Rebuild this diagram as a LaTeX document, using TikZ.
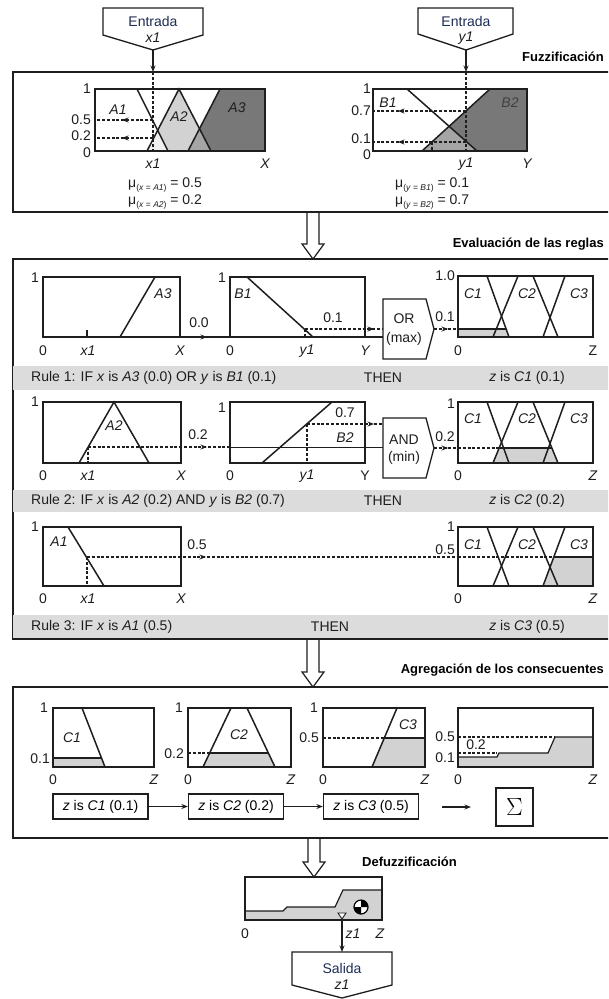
\documentclass[tikz,border=0pt]{standalone}
\usepackage{fontspec}
\setmainfont{Liberation Sans}
\usetikzlibrary{arrows.meta}
\definecolor{txtblue}{RGB}{30,45,85}
\definecolor{bandgray}{RGB}{220,220,220}
\definecolor{lgray}{RGB}{210,210,210}
\definecolor{mgray}{RGB}{165,165,165}
\definecolor{dgray}{RGB}{120,120,120}
\definecolor{vlgray}{RGB}{240,240,240}
\definecolor{lnc}{RGB}{30,30,30}
\newcommand\bigdownarrow[3]{%
  \draw[draw=lnc,line width=1.2pt,fill=white] (#1-6,#2) -- (#1-6,#3-15) -- (#1-11,#3-15) -- (#1,#3) -- (#1+11,#3-15) -- (#1+6,#3-15) -- (#1+6,#2);}
\begin{document}
\begin{tikzpicture}[x=1pt,y=-1pt,
  lab/.style={font=\fontsize{14}{16}\selectfont, inner sep=0pt, text=lnc},
  ilab/.style={font=\fontsize{14}{16}\selectfont\itshape, inner sep=0pt, text=lnc},
  ttl/.style={font=\fontsize{13}{15}\selectfont\bfseries, inner sep=0pt, anchor=east},
  frame/.style={draw=lnc, line width=1.5pt},
  pbox/.style={draw=lnc, line width=1.6pt},
  mf/.style={draw=lnc, line width=1.5pt},
  sl/.style={draw=lnc, line width=1.2pt},
  dl/.style={draw=lnc, line width=1.1pt, dash pattern=on 3pt off 1.8pt},
  arr/.style={-{Stealth[length=6.5pt,width=5pt]}},
  band/.style={fill=bandgray},
  zbox/.style={draw=lnc, line width=1.3pt, minimum width=95pt, minimum height=25pt, inner sep=0pt, font=\fontsize{14}{16}\selectfont},
  io/.style={draw=lnc, line width=1.3pt, fill=white},
]
\useasboundingbox (0,0) rectangle (608,999);
\clip (0,0) rectangle (608,999);
\fill[white] (0,0) rectangle (608,999);

% ================= inputs
\draw[io] (103,8) -- (203,8) -- (203,35) -- (153,50) -- (103,35) -- cycle;
\node[lab,text=txtblue] (inxa) at (153,21) {Entrada};
\node[ilab] (inxb) at (153,38) {x1};
\coordinate (inxtip) at (153,50);
\draw[io] (418,8) -- (513,8) -- (513,34) -- (466,50) -- (418,34) -- cycle;
\node[lab,text=txtblue] (inya) at (466,21) {Entrada};
\node[ilab] (inyb) at (466,38) {y1};
\coordinate (inytip) at (466,50);

% ================= fuzzification
\draw[frame] (13,72) rectangle (620,212);
\node[ttl] (tfz) at (604,57) {Fuzzificación};

% left plot
\fill[lgray] (147,151) -- (179,89) -- (211,151) -- cycle;
\fill[dgray] (188,151) -- (220,89) -- (265,89) -- (265,151) -- cycle;
\fill[mgray] (188,151) -- (199.5,128.7) -- (211,151) -- cycle;
\fill[vlgray] (147,151) -- (157.7,130.3) -- (168,151) -- cycle;
\draw[mf] (137,89) -- (168,151);
\draw[mf] (147,151) -- (179,89) -- (211,151);
\draw[mf] (188,151) -- (220,89);
\draw[pbox] (95,89) rectangle (265,151);
\coordinate (fzx) at (153,72);
\coordinate (x1bot) at (153,151);
\draw[sl,arr] (inxtip) -- (fzx);
\draw[dl] (fzx) -- (x1bot);
\coordinate (pa1) at (153,120); \coordinate (qa1) at (95,120); \coordinate (ma1) at (122,120);
\draw[dl] (pa1) -- (qa1); \draw[dl,arr] (pa1) -- (ma1);
\coordinate (pa2) at (153,138); \coordinate (qa2) at (95,138); \coordinate (ma2) at (122,138);
\draw[dl] (pa2) -- (qa2); \draw[dl,arr] (pa2) -- (ma2);
\node[lab,anchor=east] (fl1) at (91,89) {1};
\node[lab,anchor=east] (fl5) at (91,120) {0.5};
\node[lab,anchor=east] (fl2) at (91,136) {0.2};
\node[lab,anchor=east] (fl0) at (91,153) {0};
\node[ilab] (fA1) at (118,110) {A1};
\node[ilab] (fA2) at (179,117) {A2};
\node[ilab] (fA3) at (237,108) {A3};
\node[ilab] (fx1) at (153,164) {x1};
\node[ilab] (fX) at (265,164) {X};
\node[lab,anchor=west] (mu1) at (128,185) {μ\raisebox{-2.5pt}{\fontsize{8.5}{9}\selectfont(\textit{x} = \textit{A1})} = 0.5};
\node[lab,anchor=west] (mu2) at (128,202) {μ\raisebox{-2.5pt}{\fontsize{8.5}{9}\selectfont(\textit{x} = \textit{A2})} = 0.2};

% right plot
\fill[dgray] (422,151) -- (490,89) -- (527,89) -- (527,151) -- cycle;
\fill[mgray] (422,151) -- (449.1,126.3) -- (477,151) -- cycle;
\draw[mf] (407,89) -- (477,151);
\draw[mf] (422,151) -- (490,89);
\draw[pbox] (373,89) rectangle (527,151);
\coordinate (fzy) at (466,72);
\coordinate (y1bot) at (466,151);
\draw[sl,arr] (inytip) -- (fzy);
\draw[dl] (fzy) -- (y1bot);
\coordinate (pb1) at (466,111); \coordinate (qb1) at (373,111); \coordinate (mb1) at (398,111);
\draw[dl] (pb1) -- (qb1); \draw[dl,arr] (pb1) -- (mb1);
\coordinate (pb2) at (466,142); \coordinate (qb2) at (373,142); \coordinate (mb2) at (398,142);
\draw[dl] (pb2) -- (qb2); \draw[dl,arr] (pb2) -- (mb2);
\coordinate (pb3) at (432,142); \coordinate (qb3) at (432,151);
\draw[dl] (pb3) -- (qb3);
\node[lab,anchor=east] (gl1) at (371,89) {1};
\node[lab,anchor=east] (gl7) at (371,111) {0.7};
\node[lab,anchor=east] (gl2) at (371,139) {0.1};
\node[lab,anchor=east] (gl0) at (371,155) {0};
\node[ilab] (gB1) at (388,103) {B1};
\node[ilab,text=black!75] (gB2) at (510,103) {B2};
\node[ilab] (gy1) at (466,164) {y1};
\node[ilab] (gY) at (527,164) {Y};
\node[lab,anchor=west] (mu3) at (395,185) {μ\raisebox{-2.5pt}{\fontsize{8.5}{9}\selectfont(\textit{y} = \textit{B1})} = 0.1};
\node[lab,anchor=west] (mu4) at (395,202) {μ\raisebox{-2.5pt}{\fontsize{8.5}{9}\selectfont(\textit{y} = \textit{B2})} = 0.7};

% ================= rule evaluation
\draw[frame] (13,259) rectangle (620,639);
\node[ttl] (tev) at (604,244) {Evaluación de las reglas};
\bigdownarrow{313}{213}{259}

% ---- rule 1
\draw[pbox] (43,277) rectangle (180,337);
\draw[mf] (120,337) -- (155,277);
\draw[mf] (87,330) -- (87,337);
\node[lab,anchor=east] (a1) at (39,278) {1};
\node[lab] (a2) at (43,351) {0};
\node[ilab] (a3) at (88,351) {x1};
\node[ilab] (a4) at (180,351) {X};
\node[ilab] (a5) at (163,294) {A3};
\coordinate (r1ao) at (180,337); \coordinate (r1am) at (207,337); \coordinate (r1bi) at (230,337);
\draw[sl] (r1ao) -- (r1bi); \draw[sl,arr] (r1ao) -- (r1am);
\node[lab] (a6) at (199,323) {0.0};

\draw[pbox] (230,277) rectangle (365,337);
\draw[mf] (247,277) -- (313,337);
\node[lab,anchor=east] (b1) at (226,278) {1};
\node[ilab] (b2) at (243,294) {B1};
\node[lab] (b3) at (230,351) {0};
\node[ilab] (b4) at (307,351) {y1};
\node[ilab] (b5) at (365,351) {Y};
\coordinate (r1bp) at (305,329); \coordinate (r1bq) at (305,337);
\draw[dl] (r1bp) -- (r1bq);
\coordinate (or1in) at (383,329); \coordinate (or1m) at (374,329);
\draw[dl] (r1bp) -- (or1in); \draw[dl,arr] (r1bp) -- (or1m);
\node[lab] (b6) at (333,318) {0.1};
\coordinate (r1bo) at (365,337); \coordinate (or1in2) at (383,337);
\draw[sl] (r1bo) -- (or1in2);

\draw[io] (383,299) -- (426,299) -- (434,329) -- (426,359) -- (383,359) -- cycle;
\node[lab] (orA) at (404,319) {OR};
\node[lab] (orB) at (404,339) {(max)};
\coordinate (ortip) at (434,329); \coordinate (c1in) at (458,329); \coordinate (c1m) at (448,329);
\draw[dl] (ortip) -- (c1in); \draw[dl,arr] (ortip) -- (c1m);
\node[lab] (orv) at (445,317) {0.1};

\fill[lgray] (458,337) -- (458,329) -- (506,329) -- (509,337) -- cycle;
\draw[sl] (458,329) -- (506,329);
\draw[mf] (487,276) -- (509,337);
\draw[mf] (493,337) -- (518,276);
\draw[mf] (533,276) -- (558,337);
\draw[mf] (543,337) -- (565,276);
\draw[pbox] (458,276) rectangle (593,337);
\node[lab,anchor=east] (c1) at (455,276) {1.0};
\node[lab] (c2) at (458,351) {0};
\node[lab] (c3) at (593,351) {Z};
\node[ilab] (c4) at (473,294) {C1};
\node[ilab] (c5) at (527,294) {C2};
\node[ilab] (c6) at (579,294) {C3};

\fill[band] (13,366) rectangle (620,390);
\node[lab,anchor=west] (rl1) at (31,378) {Rule 1: IF \textit{x} is \textit{A3} (0.0) OR \textit{y} is \textit{B1} (0.1)};
\node[lab] (th1) at (383,378) {THEN};
\node[lab] (cz1) at (527,378) {\textit{z} is \textit{C1} (0.1)};

% ---- rule 2
\draw[pbox] (43,402) rectangle (181,463);
\draw[mf] (79,463) -- (114,402) -- (149,463);
\node[lab,anchor=east] (d1) at (39,402) {1};
\node[lab] (d2) at (43,476) {0};
\node[ilab] (d3) at (88,476) {x1};
\node[ilab] (d4) at (181,476) {X};
\node[ilab] (d5) at (114,426) {A2};
\coordinate (r2ap) at (88,447); \coordinate (r2aq) at (88,463);
\draw[dl] (r2ap) -- (r2aq);
\coordinate (r2bi) at (230,447); \coordinate (r2am) at (207,447);
\draw[dl] (r2ap) -- (r2bi); \draw[dl,arr] (r2ap) -- (r2am);
\node[lab] (d6) at (198,435) {0.2};
\coordinate (and1in2) at (383,447);
\draw[sl,line width=0.9pt] (r2bi) -- (and1in2);

\draw[pbox] (230,402) rectangle (365,463);
\draw[mf] (262,463) -- (332,402);
\coordinate (r2bp) at (307,424); \coordinate (r2bq) at (307,463);
\draw[dl] (r2bp) -- (r2bq);
\coordinate (and1in) at (383,424); \coordinate (and1m) at (374,424);
\draw[dl] (r2bp) -- (and1in); \draw[dl,arr] (r2bp) -- (and1m);
\node[lab] (e1) at (345,413) {0.7};
\node[ilab] (e2) at (345,438) {B2};
\node[lab,anchor=east] (e3) at (226,408) {1};
\node[lab] (e4) at (230,476) {0};
\node[ilab] (e5) at (307,476) {y1};
\node[lab] (e6) at (365,476) {Y};

\draw[io] (383,418) -- (426,418) -- (434,448) -- (426,478) -- (383,478) -- cycle;
\node[lab] (andA) at (404,440) {AND};
\node[lab] (andB) at (404,458) {(min)};
\coordinate (andtip) at (434,448); \coordinate (c2in) at (458,448); \coordinate (c2m) at (448,448);
\draw[dl] (andtip) -- (c2in); \draw[dl,arr] (andtip) -- (c2m);
\node[lab] (andv) at (445,437) {0.2};

\fill[lgray] (493,463) -- (499.1,448) -- (551.9,448) -- (558,463) -- cycle;
\draw[dl] (458,448) -- (499.1,448);
\draw[sl] (499.1,448) -- (551.9,448);
\draw[mf] (487,402) -- (509,463);
\draw[mf] (493,463) -- (518,402);
\draw[mf] (533,402) -- (558,463);
\draw[mf] (543,463) -- (565,402);
\draw[pbox] (458,402) rectangle (593,463);
\node[lab,anchor=east] (f1) at (455,404) {1};
\node[lab] (f2) at (458,476) {0};
\node[ilab] (f3) at (593,476) {Z};
\node[ilab] (f4) at (473,419) {C1};
\node[ilab] (f5) at (527,419) {C2};
\node[ilab] (f6) at (579,419) {C3};

\fill[band] (13,490) rectangle (620,512);
\node[lab,anchor=west] (rl2) at (31,501) {Rule 2: IF \textit{x} is \textit{A2} (0.2) AND \textit{y} is \textit{B2} (0.7)};
\node[lab] (th2) at (383,501) {THEN};
\node[lab] (cz2) at (527,501) {\textit{z} is \textit{C2} (0.2)};

% ---- rule 3
\draw[pbox] (43,527) rectangle (181,586);
\draw[mf] (68,527) -- (104,586);
\node[lab,anchor=east] (g1) at (39,527) {1};
\node[lab] (g2) at (43,599) {0};
\node[ilab] (g3) at (88,599) {x1};
\node[ilab] (g4) at (181,599) {X};
\node[ilab] (g5) at (59,542) {A1};
\coordinate (r3ap) at (87,557); \coordinate (r3aq) at (87,586);
\draw[dl] (r3ap) -- (r3aq);
\coordinate (c3in) at (458,557); \coordinate (r3am) at (206,557);
\draw[dl] (r3ap) -- (c3in); \draw[dl,arr] (r3ap) -- (r3am);
\node[lab] (g6) at (197,545) {0.5};

\fill[lgray] (543,586) -- (553.8,557) -- (593,557) -- (593,586) -- cycle;
\draw[dl] (458,557) -- (553.8,557);
\draw[sl] (553.8,557) -- (593,557);
\draw[mf] (487,527) -- (509,586);
\draw[mf] (493,586) -- (518,527);
\draw[mf] (533,527) -- (558,586);
\draw[mf] (543,586) -- (565,527);
\draw[pbox] (458,527) rectangle (593,586);
\node[lab,anchor=east] (h1) at (455,527) {1};
\node[lab,anchor=east] (h7) at (455,550) {0.5};
\node[lab] (h2) at (458,599) {0};
\node[ilab] (h3) at (593,599) {Z};
\node[ilab] (h4) at (473,545) {C1};
\node[ilab] (h5) at (527,545) {C2};
\node[ilab] (h6) at (579,545) {C3};

\fill[band] (13,615) rectangle (620,638);
\node[lab,anchor=west] (rl3) at (31,627) {Rule 3: IF \textit{x} is \textit{A1} (0.5)};
\node[lab] (th3) at (330,627) {THEN};
\node[lab] (cz3) at (527,627) {\textit{z} is \textit{C3} (0.5)};

% ================= aggregation
\draw[frame] (13,687) rectangle (620,838);
\node[ttl] (tag) at (604,670) {Agregación de los consecuentes};
\bigdownarrow{313}{640}{687}

% C1
\fill[lgray] (53,767) -- (53,758) -- (101.5,758) -- (105,767) -- cycle;
\draw[sl] (53,758) -- (101.5,758);
\draw[mf] (82,708) -- (105,767);
\draw[pbox] (53,708) rectangle (154,767);
\node[lab,anchor=east] (k1) at (48,708) {1};
\node[lab,anchor=east] (k2) at (50,759) {0.1};
\node[lab] (k3) at (53,780) {0};
\node[ilab] (k4) at (154,780) {Z};
\node[ilab] (k5) at (72,738) {C1};
% C2
\fill[lgray] (203,767) -- (209.6,753) -- (268.4,753) -- (275,767) -- cycle;
\draw[dl] (188,753) -- (209.6,753);
\draw[sl] (209.6,753) -- (268.4,753);
\draw[mf] (203,767) -- (231,708) -- (247,708) -- (275,767);
\draw[pbox] (188,708) rectangle (291,767);
\node[lab,anchor=east] (m1) at (183,708) {1};
\node[lab,anchor=east] (m2) at (184,754) {0.2};
\node[lab] (m3) at (188,780) {0};
\node[ilab] (m4) at (291,780) {Z};
\node[ilab] (m5) at (239,735) {C2};
% C3
\fill[lgray] (372,767) -- (384.3,738) -- (425,738) -- (425,767) -- cycle;
\draw[dl] (323,738) -- (384.3,738);
\draw[sl] (384.3,738) -- (425,738);
\draw[mf] (372,767) -- (397,708);
\draw[pbox] (323,708) rectangle (425,767);
\node[lab,anchor=east] (n1) at (318,708) {1};
\node[lab,anchor=east] (n2) at (319,738) {0.5};
\node[lab] (n3) at (323,780) {0};
\node[ilab] (n4) at (425,780) {Z};
\node[ilab] (n5) at (408,725) {C3};
% aggregated
\fill[lgray] (458,767) -- (458,757) -- (497,757) -- (499,753) -- (548,753) -- (555,737) -- (593,737) -- (593,767) -- cycle;
\draw[dl] (458,737) -- (555,737);
\draw[dl] (458,753) -- (497,753);
\draw[sl] (458,757) -- (497,757) -- (499,753) -- (548,753) -- (555,737) -- (593,737);
\draw[pbox] (458,708) rectangle (593,767);
\node[lab,anchor=east] (p1) at (455,737) {0.5};
\node[lab,anchor=east] (p2) at (455,758) {0.1};
\node[lab] (p3) at (476,745) {0.2};
\node[lab] (p4) at (458,780) {0};
\node[ilab] (p5) at (593,780) {Z};

\node[zbox] (z1) at (100.5,806.5) {\textit{z} is \textit{C1} (0.1)};
\node[zbox] (z2) at (236,806.5) {\textit{z} is \textit{C2} (0.2)};
\node[zbox] (z3) at (371,806.5) {\textit{z} is \textit{C3} (0.5)};
\draw[sl,arr] (z1) -- (z2);
\draw[sl,arr] (z2) -- (z3);
\coordinate (sa) at (442,807); \coordinate (sb) at (471,807);
\draw[sl,arr] (sa) -- (sb);
\node[draw=lnc, line width=1.3pt, minimum width=37pt, minimum height=38pt, inner sep=0pt] (sig) at (514.5,807) {\fontsize{30}{30}\selectfont$\Sigma$};

% ================= defuzzification
\bigdownarrow{314}{839}{877}
\node[ttl,anchor=west] (tdf) at (362,862) {Defuzzificación};
\fill[lgray] (245,920) -- (245,911) -- (283,911) -- (287,907) -- (335,907) -- (343,890) -- (382,890) -- (382,920) -- cycle;
\draw[sl] (245,911) -- (283,911) -- (287,907) -- (335,907) -- (343,890) -- (382,890);
\draw[pbox] (245,877) rectangle (382,920);
\coordinate (cg) at (361,907);
\fill[white] (cg) circle[radius=7];
\fill[black] (cg) -- ++(0,-7) arc[start angle=-90,end angle=0,radius=7] -- cycle;
\fill[black] (cg) -- ++(0,7) arc[start angle=90,end angle=180,radius=7] -- cycle;
\draw[black,line width=1.2pt] (cg) circle[radius=7];
\draw[lnc,line width=0.9pt,fill=white] (338,913) -- (346,913) -- (342,919) -- cycle;
\coordinate (zout) at (342,919);
\node[lab] (q1) at (245,934) {0};
\node[ilab] (q2) at (353,934) {z1};
\node[ilab] (q3) at (380,934) {Z};

\draw[io] (292,952) -- (392,952) -- (392,985) -- (342,998) -- (292,985) -- cycle;
\coordinate (saltop) at (342,952);
\node[lab,text=txtblue] (sal1) at (342,968) {Salida};
\node[ilab] (sal2) at (342,985) {z1};
\draw[sl,arr] (zout) -- (saltop);
\end{tikzpicture}
\end{document}
